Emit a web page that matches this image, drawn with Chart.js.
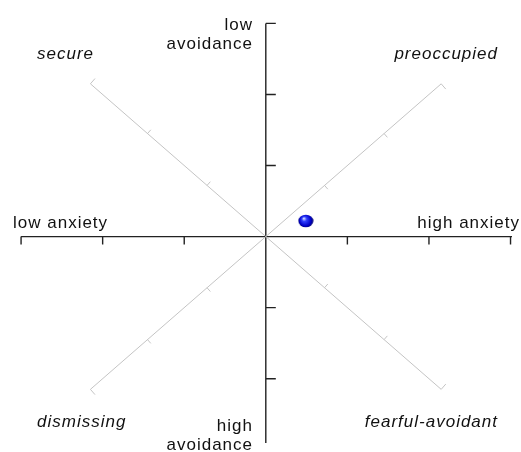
<!DOCTYPE html>
<html>
<head>
<meta charset="utf-8">
<script src="https://cdn.jsdelivr.net/npm/chart.js@4"></script>
<style>
  html, body { margin: 0; padding: 0; background: #fff; }
  #wrap { width: 521px; height: 452px; }
</style>
</head>
<body>
<div id="wrap"><canvas id="attachment" width="521" height="452"></canvas></div>
<script>
// axis ranges (anxiety on x, avoidance on y; origin in the middle)
const xRange = [-3.148, 3.018];
const yRange = [-2.905, 3.203];
const xTicks = [-3, -2, -1, 1, 2, 3];
const yTicks = [3, 2, 1, -1, -2];
const diagEnd = 2.15;
const diagTicks = [0.72, 1.45];

// the one plotted person
const personX = [0.49];
const personY = [0.22];

// corner / axis labels
const styleNames = ['secure', 'preoccupied', 'dismissing', 'fearful-avoidant'];
const axisNames = ['low anxiety', 'high anxiety', ['low', 'avoidance'], ['high', 'avoidance']];

const diagonals = [[-1, 1], [1, 1], [-1, -1], [1, -1]];

// little 3d blue ball for the point
function makeBall() {
  const c = document.createElement('canvas');
  c.width = 16; c.height = 14;
  const g = c.getContext('2d');
  const grd = g.createRadialGradient(6, 4.5, 0.5, 8, 7, 8);
  grd.addColorStop(0, '#c8d0ff');
  grd.addColorStop(0.25, '#3040ff');
  grd.addColorStop(0.7, '#0000c8');
  grd.addColorStop(1, '#000050');
  g.fillStyle = grd;
  g.beginPath();
  g.ellipse(8, 7, 7.5, 6.3, 0, 0, Math.PI * 2);
  g.fill();
  return c;
}

const datasets = diagonals.map(d => ({
  type: 'line',
  data: [{x: 0, y: 0}, {x: d[0] * diagEnd, y: d[1] * diagEnd}],
  borderColor: '#c4c4c4',
  borderWidth: 1,
  pointRadius: 0,
  fill: false
}));
datasets.push({
  type: 'scatter',
  data: personX.map((x, i) => ({x: x, y: personY[i]})),
  pointStyle: makeBall(),
  pointRadius: 8
});

const axesPlugin = {
  id: 'axes',
  beforeDatasetsDraw(chart) {
    const ctx = chart.ctx;
    const xs = chart.scales.x, ys = chart.scales.y;
    const x0 = xs.getPixelForValue(0), y0 = ys.getPixelForValue(0);
    ctx.save();
    // diagonal ticks and end caps (toward +x side)
    ctx.strokeStyle = '#c4c4c4';
    ctx.lineWidth = 1;
    diagonals.forEach(d => {
      const ex = xs.getPixelForValue(d[0] * diagEnd) - x0;
      const ey = ys.getPixelForValue(d[1] * diagEnd) - y0;
      const len = Math.hypot(ex, ey);
      let nx = -ey / len, ny = ex / len;
      if (nx < 0) { nx = -nx; ny = -ny; }
      diagTicks.concat([diagEnd]).forEach(t => {
        const px = xs.getPixelForValue(d[0] * t), py = ys.getPixelForValue(d[1] * t);
        const L = t === diagEnd ? 7 : 5;
        ctx.beginPath();
        ctx.moveTo(px, py);
        ctx.lineTo(px + nx * L, py + ny * L);
        ctx.stroke();
      });
    });
    // main axes
    ctx.strokeStyle = '#222';
    ctx.lineWidth = 1.4;
    ctx.beginPath();
    ctx.moveTo(xs.getPixelForValue(-3), y0);
    ctx.lineTo(xs.getPixelForValue(xRange[1]), y0);
    ctx.moveTo(x0, ys.getPixelForValue(3));
    ctx.lineTo(x0, ys.getPixelForValue(yRange[0]));
    xTicks.forEach(t => {
      const p = xs.getPixelForValue(t);
      ctx.moveTo(p, y0);
      ctx.lineTo(p, y0 + 8);
    });
    yTicks.forEach(t => {
      const p = ys.getPixelForValue(t);
      ctx.moveTo(x0, p);
      ctx.lineTo(x0 + 10, p);
    });
    ctx.stroke();

    // labels
    ctx.fillStyle = '#111';
    ctx.letterSpacing = '1px';
    ctx.textBaseline = 'alphabetic';
    ctx.font = 'italic 17px "Liberation Sans", Arial, sans-serif';
    ctx.textAlign = 'left';
    ctx.fillText(styleNames[0], 37, 59);
    ctx.fillText(styleNames[2], 37, 427);
    ctx.textAlign = 'right';
    ctx.fillText(styleNames[1], 498, 59);
    ctx.fillText(styleNames[3], 498, 427);

    ctx.font = '17px "Liberation Sans", Arial, sans-serif';
    ctx.textAlign = 'left';
    ctx.fillText(axisNames[0], 13, 228);
    ctx.textAlign = 'right';
    ctx.fillText(axisNames[1], 520, 228);
    ctx.fillText(axisNames[2][0], 253, 30);
    ctx.fillText(axisNames[2][1], 253, 49);
    ctx.fillText(axisNames[3][0], 253, 431);
    ctx.fillText(axisNames[3][1], 253, 450);
    ctx.restore();
  }
};

new Chart(document.getElementById('attachment'), {
  data: { datasets: datasets },
  options: {
    responsive: false,
    animation: false,
    devicePixelRatio: 1,
    layout: { padding: 0 },
    plugins: { legend: { display: false }, tooltip: { enabled: false } },
    scales: {
      x: { type: 'linear', min: xRange[0], max: xRange[1], display: false },
      y: { type: 'linear', min: yRange[0], max: yRange[1], display: false }
    }
  },
  plugins: [axesPlugin]
});
</script>
</body>
</html>
